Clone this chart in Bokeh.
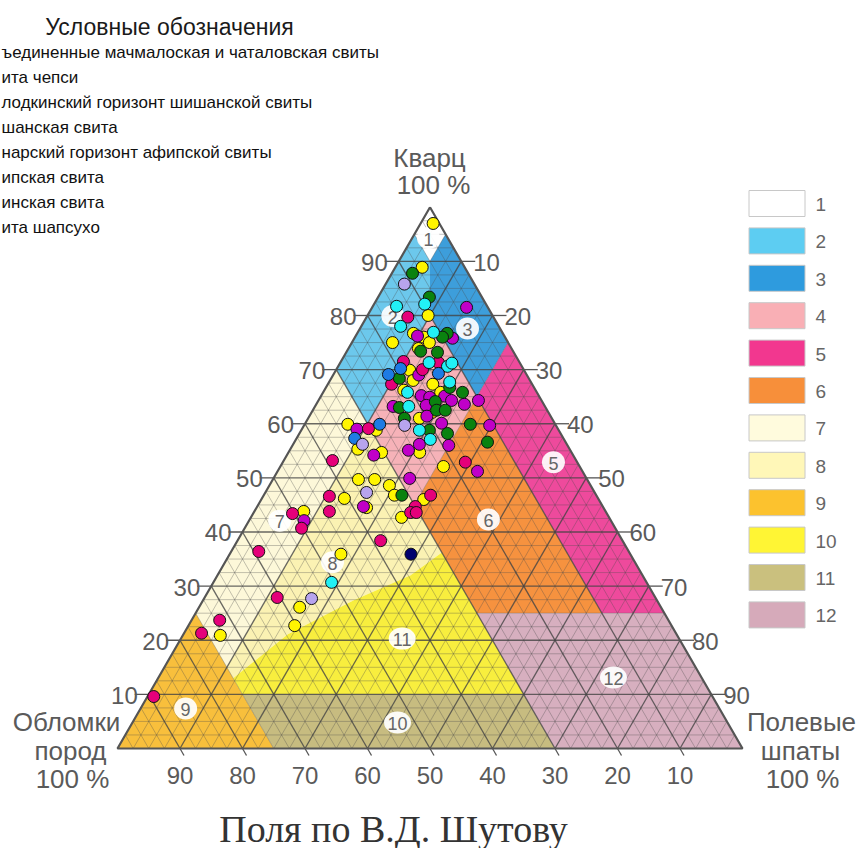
import numpy as np
from bokeh.plotting import figure
from bokeh.models import Range1d
from bokeh.core.properties import value
from bokeh.embed import file_html
from bokeh.resources import INLINE

# ---------------- data (ternary percentages: Q = кварц, F = полевые шпаты) ----------------
SERIES_LABELS = [
    "ъединенные мачмалоская и чаталовская свиты",
    "ита чепси",
    "лодкинский горизонт шишанской свиты",
    "шанская свита",
    "нарский горизонт афипской свиты",
    "ипская свита",
    "инская свита",
    "ита шапсухо",
]

S1_Q = [81.5, 75.8, 76.2, 69.0, 65.2, 64.9, 65.1, 64.3, 63.6, 64.3, 63.2, 63.4, 61.4, 60.1, 59.7, 56.2, 56.0, 55.1, 54.2, 59.0, 49.9, 44.7, 42.1, 51.2]
S1_F = [15.1, 15.7, 9.9, 13.7, 16.0, 17.5, 19.8, 21.3, 23.7, 25.6, 12.5, 17.7, 18.8, 21.8, 29.7, 20.2, 25.0, 19.0, 13.9, 8.8, 21.8, 17.0, 8.8, 32.0]

S2_Q = [79.7, 71.5, 71.3, 70.0, 67.3, 59.1, 53.2, 52.9, 46.6, 43.8, 46.8, 44.7, 43.6, 43.6, 43.4, 40.7, 36.4, 38.4, 27.9, 23.7, 21.3, 9.6]
S2_F = [6.6, 10.0, 15.7, 13.8, 10.2, 10.6, 7.8, 29.2, 10.6, 12.0, 26.7, 25.3, 25.1, 26.0, 6.3, 9.1, 4.4, 22.9, 11.6, 4.5, 2.8, 1.0]

S3_Q = [87.8, 83.4, 76.7, 76.0, 73.4, 73.2, 68.4, 66.7, 65.8, 64.1, 63.0, 62.5, 62.5, 61.0, 58.8, 58.2, 59.9, 56.6, 46.8]
S3_F = [3.3, 8.2, 14.4, 14.0, 11.8, 14.6, 10.9, 19.8, 22.3, 18.8, 13.6, 19.8, 21.2, 15.4, 20.5, 23.7, 26.5, 30.9, 22.1]

S4_Q = [82.1, 81.7, 78.0, 76.9, 71.3, 70.6, 71.2, 67.7, 65.8, 63.2, 58.8, 57.1, 30.7]
S4_F = [8.1, 3.8, 6.3, 12.1, 14.2, 17.5, 17.9, 19.3, 13.5, 15.0, 18.9, 21.5, 18.9]

S5_Q = [69.1, 70.2, 69.3, 59.9, 57.3]
S5_F = [8.8, 10.2, 16.7, 12.0, 9.3]

S6_Q = [85.8, 59.7, 56.2, 47.3, 27.7]
S6_F = [3.0, 16.1, 11.1, 16.2, 17.2]

S7_Q = [35.9]
S7_F = [29.0]

S8_Q = [97.0, 88.9, 80.0, 75.0, 76.7, 76.0, 75.0, 73.9, 69.9, 68.0, 67.3, 65.8, 66.2, 62.1, 61.0, 58.8, 54.7, 54.7, 59.9, 55.3, 52.1, 49.7, 49.7, 48.6, 46.8, 46.2, 44.5, 46.0, 42.7, 43.8, 35.9, 26.1, 22.7, 20.9]
S8_F = [2.0, 4.3, 9.7, 6.5, 9.0, 11.0, 12.4, 11.2, 11.8, 13.3, 16.8, 18.8, 12.7, 19.3, 17.8, 12.0, 21.0, 14.9, 6.9, 10.8, 26.1, 13.7, 16.3, 19.2, 20.9, 13.2, 17.6, 26.0, 24.1, 7.9, 17.8, 16.1, 17.0, 6.0]

SERIES_Q = [S1_Q, S2_Q, S3_Q, S4_Q, S5_Q, S6_Q, S7_Q, S8_Q]
SERIES_F = [S1_F, S2_F, S3_F, S4_F, S5_F, S6_F, S7_F, S8_F]
SERIES_COLORS = ["#C000C8", "#E5007A", "#0A820F", "#22F0F5", "#1E7BE4", "#B7A4EE", "#00006E", "#FFF500"]
DRAW_ORDER = [7, 0, 1, 2, 3, 4, 5, 6]

# fields of V.D. Shutov (vertices as Q, F percentages)
FIELD1_Q = [100, 95, 90, 95];            FIELD1_F = [0, 5, 5, 0]
FIELD2_Q = [95, 70, 60, 80, 90];         FIELD2_F = [0, 0, 10, 10, 5]
FIELD3_Q = [95, 75, 65, 80, 90];         FIELD3_F = [5, 25, 25, 10, 5]
FIELD4_Q = [80, 60, 45, 65];             FIELD4_F = [10, 10, 25, 25]
FIELD5_Q = [75, 25, 25, 65];             FIELD5_F = [25, 75, 65, 25]
FIELD6_Q = [65, 25, 25, 45];             FIELD6_F = [25, 65, 45, 25]
FIELD7_Q = [70, 25, 15, 60];             FIELD7_F = [0, 0, 10, 10]
FIELD8_Q = [60, 15, 13, 21.1, 27.4, 32, 36.2, 45]
FIELD8_F = [10, 10, 12, 16.7, 24.1, 30.9, 33.8, 25]
FIELD9_Q = [25, 0, 0];                   FIELD9_F = [0, 0, 25]
FIELDY_Q = [10, 10, 36.2, 32, 27.4, 21.1, 13]
FIELDY_F = [15, 60, 33.8, 30.9, 24.1, 16.7, 12]
FIELDO_Q = [10, 0, 0, 10];               FIELDO_F = [15, 25, 70, 60]
FIELD12_Q = [25, 0, 0, 25];              FIELD12_F = [45, 70, 100, 75]

FIELDS_Q = [FIELD1_Q, FIELD2_Q, FIELD3_Q, FIELD4_Q, FIELD5_Q, FIELD6_Q, FIELD7_Q, FIELD8_Q, FIELD9_Q, FIELDY_Q, FIELDO_Q, FIELD12_Q]
FIELDS_F = [FIELD1_F, FIELD2_F, FIELD3_F, FIELD4_F, FIELD5_F, FIELD6_F, FIELD7_F, FIELD8_F, FIELD9_F, FIELDY_F, FIELDO_F, FIELD12_F]
FIELD_COLORS = ["#FFFFFF", "#6CC8EC", "#3D9EDB", "#F6B2B8", "#EE4A9C", "#F6923F", "#FDF8D9", "#FBF2B3", "#F8BF3C", "#F8EE3E", "#C7BC80", "#D7AFBF"]

FIELD_NUMBERS = ["1", "2", "3", "5", "6", "7", "8", "11", "12", "9", "10"]
FIELD_NUM_Q = [94.3, 79.9, 77.6, 52.9, 42.3, 42.1, 34.4, 20.3, 13.1, 7.4, 4.8]
FIELD_NUM_F = [2.6, 4.1, 17.2, 43.3, 38.2, 4.9, 17.2, 35.4, 72.8, 7.2, 42.4]

LEGEND_NUMBERS = ["1", "2", "3", "4", "5", "6", "7", "8", "9", "10", "11", "12"]
LEGEND_COLORS = ["#FFFFFF", "#5DCDF2", "#2E9BDE", "#F9AFB5", "#F2378F", "#F78F3A", "#FFFBDD", "#FFF7B8", "#FCC22E", "#FFF534", "#CAC07E", "#D6AABA"]

TICKS = [10, 20, 30, 40, 50, 60, 70, 80, 90]

# ---------------- geometry ----------------
X_LEFT, X_RIGHT, Y_BASE = 117.0, 742.0, 748.0
SIDE = X_RIGHT - X_LEFT
HGT = SIDE * np.sqrt(3) / 2


def tern(q, f):
    q = np.asarray(q, dtype=float) / 100.0
    f = np.asarray(f, dtype=float) / 100.0
    return X_LEFT + SIDE * (f + q / 2.0), Y_BASE - HGT * q


W, H = 859, 848
p = figure(width=W, height=H, x_range=Range1d(0, W), y_range=Range1d(H, 0),
           output_backend="svg", toolbar_location=None, min_border=0,
           x_axis_location=None, y_axis_location=None)
p.xgrid.visible = False
p.ygrid.visible = False
p.outline_line_color = None
p.background_fill_color = "white"
p.border_fill_color = "white"

SANS = value("Liberation Sans")

# fields
xs, ys = [], []
for fq, ff in zip(FIELDS_Q, FIELDS_F):
    x, y = tern(fq, ff)
    xs.append(list(x)); ys.append(list(y))
p.patches(xs, ys, fill_color=FIELD_COLORS, line_color=None)

# grid
vals = np.arange(2.5, 100, 2.5)
for major in (False, True):
    sel = [v for v in vals if (abs(v % 10) < 1e-9) == major]
    x0, y0, x1, y1 = [], [], [], []
    for v in sel:
        for (qa, fa, qb, fb) in ((v, 0, v, 100 - v), (0, v, 100 - v, v), (0, 100 - v, 100 - v, 0)):
            a = tern(qa, fa); b = tern(qb, fb)
            x0.append(float(a[0])); y0.append(float(a[1])); x1.append(float(b[0])); y1.append(float(b[1]))
    if major:
        p.segment(x0, y0, x1, y1, line_color="#444444", line_width=1.3, line_alpha=0.8)
    else:
        p.segment(x0, y0, x1, y1, line_color="#4a4a4a", line_width=0.8, line_alpha=0.42)

# outline
ox, oy = tern([100, 0, 0, 100], [0, 0, 100, 0])
p.line(list(ox), list(oy), line_color="#555555", line_width=2.2)

# ticks and tick labels
t = np.array(TICKS, dtype=float)
lx, ly = tern(t, np.zeros_like(t))               # left edge: кварц
p.segment(lx - 14, ly, lx, ly, line_color="#555555", line_width=1.3)
p.text(lx - 11, ly + 1, text=[str(v) for v in TICKS], text_font=SANS, text_font_size="24px",
       text_color="#5a5a5a", text_align="right", text_baseline="alphabetic")
rx, ry = tern(100 - t, t)                         # right edge: полевые шпаты
p.segment(rx, ry, rx + 14, ry, line_color="#555555", line_width=1.3)
p.text(rx + 12, ry + 1, text=[str(v) for v in TICKS], text_font=SANS, text_font_size="24px",
       text_color="#5a5a5a", text_align="left", text_baseline="alphabetic")
bx, by = tern(np.zeros_like(t), 100 - t)          # bottom edge: обломки пород
p.segment(bx, by, bx + 4, by + 7, line_color="#555555", line_width=1.3)
p.text(bx, by + 27, text=[str(v) for v in TICKS], text_font=SANS, text_font_size="24px",
       text_color="#5a5a5a", text_align="center", text_baseline="middle")

# field number badges
nx, ny = tern(FIELD_NUM_Q, FIELD_NUM_F)
p.ellipse(nx, ny, width=[23 if len(s) == 1 else 27 for s in FIELD_NUMBERS], height=22,
          fill_color="white", fill_alpha=0.92, line_color=None)
p.text(nx, ny + 1, text=FIELD_NUMBERS, text_font=SANS, text_font_size="18px",
       text_color="#666666", text_align="center", text_baseline="middle")

# data points
for i in DRAW_ORDER:
    px, py = tern(SERIES_Q[i], SERIES_F[i])
    p.scatter(px, py, size=12, fill_color=SERIES_COLORS[i], line_color="#111111", line_width=1)

# corner labels
def label(x, y, s, size=26, color="#5a5a5a", align="center", font=SANS):
    p.text([x], [y], text=[s], text_font=font, text_font_size=f"{size}px",
           text_color=color, text_align=align, text_baseline="middle")

label(429, 157, "Кварц")
label(433, 184, "100 %")
label(66, 721, "Обломки")
label(70, 750, "пород")
label(72, 778, "100 %")
label(801, 721, "Полевые")
label(800, 750, "шпаты")
label(802, 778, "100 %")

label(393, 828, "Поля по В.Д. Шутову", size=38, color="#333333", font=value("Liberation Serif"))

# top-left legend text
label(169, 26, "Условные обозначения", size=23, color="#1a1a1a")
ly0 = np.arange(len(SERIES_LABELS)) * 25.0 + 52
p.text(np.full(len(SERIES_LABELS), 1.0), ly0, text=SERIES_LABELS, text_font=SANS,
       text_font_size="17px", text_color="#111111", text_align="left", text_baseline="middle")

# right legend of fields
gy = 203 + np.arange(len(LEGEND_NUMBERS)) * 37.4
p.rect(np.full(len(gy), 776.5), gy, width=56, height=26, fill_color=LEGEND_COLORS,
       line_color="#c8c8c8", line_width=1)
p.text(np.full(len(gy), 815.0), gy + 1, text=LEGEND_NUMBERS, text_font=SANS, text_font_size="19px",
       text_color="#666666", text_align="left", text_baseline="middle")

open("out.html", "w").write(file_html(p, INLINE))
